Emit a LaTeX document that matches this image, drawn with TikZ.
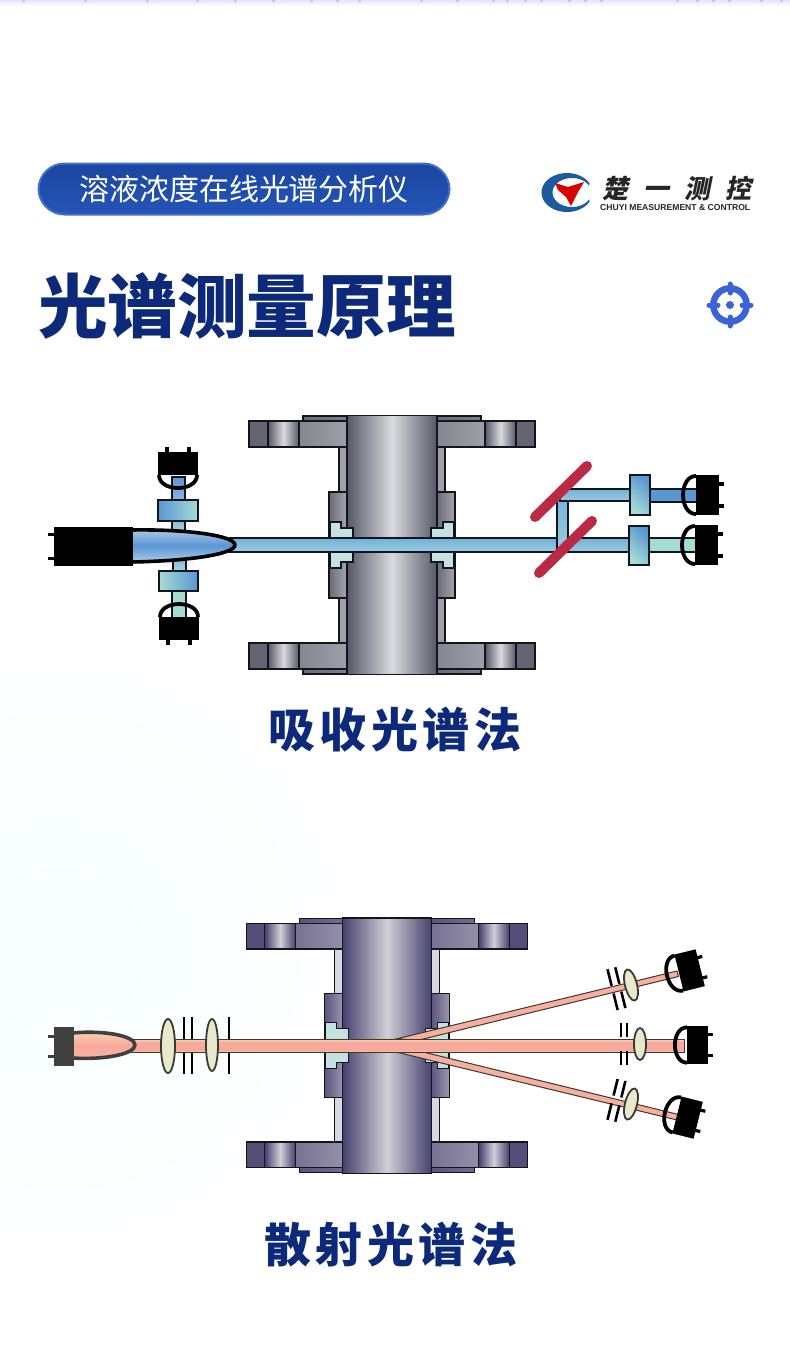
\documentclass[tikz,border=0pt]{standalone}
\usepackage{fontspec}
\newfontfamily\cjk{Noto Sans CJK SC}
\newfontfamily\cjkwide[LetterSpace=9.5]{Noto Sans CJK SC}
\newfontfamily\cjklogo[LetterSpace=58,FakeSlant=0.2]{Noto Sans CJK SC}
\newfontfamily\latinlogo{Liberation Sans}

\definecolor{navy}{HTML}{0D2A7A}
\definecolor{cellline}{HTML}{14141E}
\definecolor{sealcol}{HTML}{C4E2E0}
\definecolor{bluepipe}{HTML}{5B96D4}
\definecolor{tealpipe}{HTML}{A4DCD4}
\definecolor{beamblue}{HTML}{72B2D6}
\definecolor{mirrorred}{HTML}{BB2A44}
\definecolor{pinkbeam}{HTML}{F8A89C}
\definecolor{creambeam}{HTML}{F4DCB0}
\definecolor{greenedge}{HTML}{DCD9A0}
\definecolor{lenscol}{HTML}{E8E8CC}
\definecolor{lensline}{HTML}{3A3A30}
\definecolor{iconblue}{HTML}{3B62D6}
\definecolor{logoblue}{HTML}{1D5A9E}
\definecolor{bannertop}{HTML}{1B45A0}
\definecolor{bannerlow}{HTML}{2456B8}
\definecolor{bannerrim}{HTML}{4070CC}
\definecolor{steeldark}{HTML}{565866}
\definecolor{steellight}{HTML}{DADADE}
\definecolor{steelneck}{HTML}{A0A0A8}
\definecolor{violetdark}{HTML}{46406E}
\definecolor{violetlight}{HTML}{D2D0D8}
\definecolor{violetneck}{HTML}{D8D8DE}

\pgfdeclareverticalshading{pinkbar}{100bp}{color(0bp)=(greenedge); color(25bp)=(greenedge); color(33bp)=(pinkbeam); color(62bp)=(pinkbeam); color(75bp)=(creambeam); color(100bp)=(creambeam)}

% cell: x, y, scale, dark, light, neck colour
\newcommand{\flowcell}[6]{
  \begin{scope}[shift={(#1,#2)},scale=#3]
    \foreach \s in {-1,1} \foreach \t in {-1,1} {
      \begin{scope}[xscale=\s,yscale=\t]
        \draw[cellpart,left color=#4!85!#5,right color=#4!70!#5] (-89,-129) rectangle (-45,-124);
        \draw[cellpart,fill=#6] (-53,0) rectangle (-45,-99);
        \draw[cellpart,left color=#4!85!#5,right color=#4!40!#5] (-63,0) rectangle (-45,-53);
        \draw[cellpart,left color=#4!65!#5,right color=#4!45!#5] (-93,-124) rectangle (-45,-98);
        \draw[cellpart,left color=#4,right color=#4,middle color=#5] (-124,-124) rectangle (-93,-98);
        \draw[cellpart,fill=#4!90!#5] (-143,-124) rectangle (-124,-98);
      \end{scope}
    }
    \draw[cellpart,left color=#4,right color=#4,middle color=#5] (-45,-129.5) rectangle (45,129.5);
    \foreach \s in {-1,1} \foreach \t in {-1,1} {
      \draw[cellpart,fill=sealcol,xscale=\s,yscale=\t] (-62,-23) -- (-51,-23) -- (-51,-17) -- (-39,-17) -- (-39,-6) -- (-62,-6) -- cycle;
    }
  \end{scope}
}
% detector: x, y, angle, scale
\newcommand{\detector}[4]{
  \begin{scope}[shift={(#1,#2)},rotate=#3,scale=#4]
    \draw[line width=3.8pt,black] (0,-19) .. controls (-17.3,-19) and (-17.3,19) .. (0,19);
    \fill[black] (0,-20) rectangle (23,20);
    \draw[line width=3.2pt,black] (22,-11) -- (28,-11) (22,11) -- (28,11);
  \end{scope}
}
% lens with its stops: x, y, angle, half gap
\newcommand{\lensunit}[5]{
  \begin{scope}[shift={(#1,#2)},rotate=#3]
    \foreach \d in {-19,#5} {
      \draw[stopline] (\d,-21) -- (\d,-#4) (\d,#4) -- (\d,21);
    }
    \draw[lenspart] (0,0) ellipse (6 and 16);
  \end{scope}
}

\begin{document}
\begin{tikzpicture}[
  x=1pt,y=-1pt,
  cellpart/.style={draw=cellline,line width=1.1pt},
  bluebeam/.style={draw=cellline,line width=1.1pt,top color=#1,bottom color=#1!70!white},
  bluebeam/.default=beamblue,
  filterbox/.style={draw=cellline,line width=1.1pt,left color=#1,shading angle=80},
  redbeam/.style={draw=lensline,line width=1pt,fill=pinkbeam!85!creambeam},
  lenspart/.style={draw=lensline,line width=1.8pt,fill=lenscol},
  stopline/.style={draw=black,line width=2.6pt},
  mirror/.style={draw=mirrorred,line width=10pt,line cap=round},
  lampbody/.style={line width=3.6pt,line join=round}
]
\useasboundingbox (0,0) rectangle (790,1353);
\fill[white] (0,0) rectangle (790,1353);
\shade[inner color=cyan!3!white,outer color=white] (60,950) circle (300);
\shade[top color=blue!10!white,bottom color=white] (0,0) rectangle (790,6);
\foreach \x in {21,52,83,108,127,146,165,178,189,220,238,256,263,272,280,294,302,310,348,358,366,374,390,400,428,451,462,475,486,500} {
  \fill[bluepipe!45!white] (2*\x-20,0) rectangle (2*\x-17,2);
}

% header
\node[draw=bannerrim,line width=2pt,top color=bannertop,bottom color=bannerlow,rounded corners=26,
  minimum width=411,minimum height=51,inner sep=0,text=white,font=\cjk\fontsize{30}{30}\selectfont] (banner) at (244,189) {溶液浓度在线光谱分析仪};
\node[anchor=west,inner sep=0,text=navy,font=\cjk\bfseries\fontsize{69.6}{70}\selectfont] (maintitle) at (38,306) {光谱测量原理};

% logo
\fill[logoblue] plot[domain=28:332,samples=40,smooth] ({567+25.5*cos(\x)},{192.5-19.5*sin(\x)})
  -- plot[domain=332:28,samples=40,smooth] ({572+19.5*cos(\x)},{192.5-14.5*sin(\x)}) -- cycle;
\fill[red!85!black] (555,183) -- (568,187) -- (584,182) -- (578,192) -- (571,206) -- (566,197) -- (558,190) -- cycle;
\node[anchor=west,inner sep=0,text=black!85,font=\cjklogo\bfseries\fontsize{26}{26}\selectfont] (logotext) at (602,188.5) {楚一测控};
\node[anchor=west,inner sep=0,text=black!85,font=\latinlogo\bfseries\fontsize{8.6}{8.6}\selectfont] (logolatin) at (600,208) {CHUYI MEASUREMENT \& CONTROL};

% target icon
\draw[iconblue,line width=6.5pt] (730,305) circle (16.7);
\fill[iconblue] (730,305) circle (4);
\foreach \a in {0,90,180,270} {
  \draw[iconblue,line width=5pt,line cap=round,rotate around={\a:(730,305)}] (742,305) -- (751,305);
}

% absorption
\flowcell{392}{545}{1}{steeldark}{steellight}{steelneck}
\draw[bluebeam=bluepipe] (172,477) rectangle (185,500);
\draw[bluebeam=tealpipe!60!bluepipe] (172,521) rectangle (185,532);
\draw[bluebeam=tealpipe!60!bluepipe] (173,560) rectangle (186,571);
\draw[cellpart,fill=tealpipe] (172,591) rectangle (186,618);
\draw[filterbox=bluepipe,right color=tealpipe] (158,500) rectangle (198,521);
\draw[filterbox=tealpipe,right color=bluepipe] (159,571) rectangle (198,591);
\detector{178}{475}{90}{1}
\detector{179}{617}{-90}{1}
\draw[bluebeam] (230,538) rectangle (632,552);
\draw[bluebeam] (557,552) rectangle (568,490);
\draw[bluebeam] (560,489) rectangle (632,501);
\draw[cellpart,fill=bluepipe] (648,489) rectangle (698,502);
\draw[cellpart,fill=tealpipe] (648,538) rectangle (697,552);
\draw[filterbox=tealpipe,right color=bluepipe,shading angle=140] (630,475) rectangle (650,515);
\draw[filterbox=bluepipe,right color=tealpipe,shading angle=320] (629,526) rectangle (649,565);
\draw[mirror] (535,517) -- (587,466);
\draw[mirror] (539,573) -- (592,521);
\detector{696}{495}{0}{1}
\detector{695}{545}{0}{1}
\draw[black,lampbody,top color=bluepipe!50!white,bottom color=bluepipe!50!white,middle color=bluepipe]
  (131,530) .. controls (190,529) and (235,536) .. (235,545) .. controls (235,554) and (190,561) .. (131,562) -- cycle;
\fill[black] (54,527) rectangle (133,566);
\draw[black,line width=3pt] (48,534) -- (55,534) (48,558) -- (55,558);
\node[inner sep=0,text=navy,font=\cjkwide\bfseries\fontsize{47}{47}\selectfont] (abslabel) at (395,730) {吸收光谱法};

% scattering
\flowcell{387}{1045.5}{0.985}{violetdark}{violetlight}{violetneck}
\draw[redbeam] (396,1039) -- (677,971) -- (678.5,976.5) -- (419,1040) -- cycle;
\draw[redbeam] (396,1052) -- (677,1120) -- (678.5,1114.5) -- (419,1051) -- cycle;
\draw[draw=lensline,line width=1pt,shading=pinkbar] (130,1039) rectangle (684,1052);
\foreach \x in {184,192,229} {
  \draw[stopline] (\x,1017) -- (\x,1038.5) (\x,1052.5) -- (\x,1074);
}
\draw[lenspart] (168,1046) ellipse (7 and 27);
\draw[lenspart] (212,1045) ellipse (6 and 26);
\lensunit{631}{985}{14}{4}{-11}
\lensunit{640}{1044}{0}{7}{-13}
\lensunit{631}{1104}{-14}{4}{-11}
\detector{679}{973}{14}{0.95}
\detector{687}{1045}{0}{0.93}
\detector{677}{1115}{-14}{0.95}
\draw[black!75,lampbody,top color=creambeam,bottom color=pinkbeam!80!creambeam,middle color=pinkbeam]
  (72,1033) .. controls (105,1030) and (135,1036) .. (135,1045) .. controls (135,1054) and (105,1060) .. (72,1058) -- cycle;
\fill[black!75] (54,1027) rectangle (74,1066);
\draw[black!75,line width=3pt] (48,1036) -- (55,1036) (48,1056) -- (55,1056);
\node[inner sep=0,text=navy,font=\cjkwide\bfseries\fontsize{47}{47}\selectfont] (scatlabel) at (391,1245) {散射光谱法};
\end{tikzpicture}
\end{document}
